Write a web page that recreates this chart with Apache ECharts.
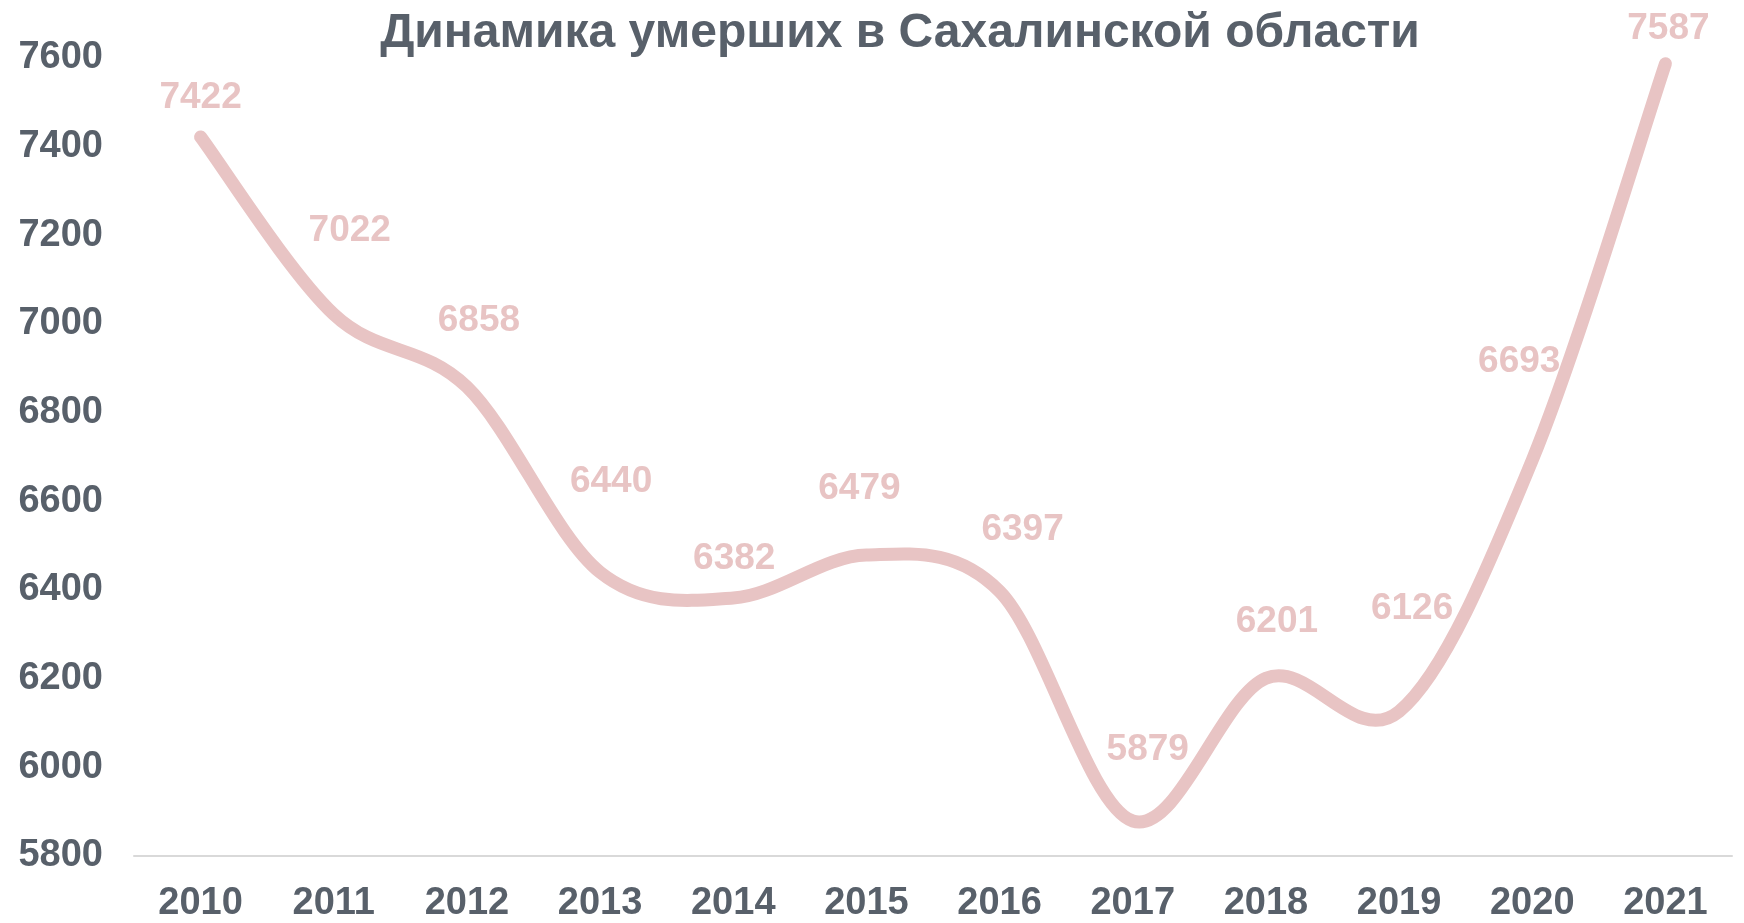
<!DOCTYPE html>
<html>
<head>
<meta charset="utf-8">
<title>Динамика умерших в Сахалинской области</title>
<script src="https://cdn.jsdelivr.net/npm/echarts@6/dist/echarts.min.js"></script>
<style>
  html, body { margin: 0; padding: 0; background: #fff; }
  #chart { width: 1744px; height: 923px; }
</style>
</head>
<body>
<div id="chart"></div>
<script>
// data
var years = ['2010', '2011', '2012', '2013', '2014', '2015', '2016', '2017', '2018', '2019', '2020', '2021']
var deaths = [7422, 7022, 6858, 6440, 6382, 6479, 6397, 5879, 6201, 6126, 6693, 7587]
var yMin = 5800
var yMax = 7600
var yStep = 200

// where each value label sits relative to its point (px)
var labelShift = [
  [0, -39], [16, -83], [12, -66], [11, -90], [1, -39], [-7, -66],
  [23, -62], [15, -71], [11, -56], [13, -103], [-13, -98], [3, -35]
]

var textColor = '#58606a'
var pink = '#e8c4c4'
var font = '"Liberation Sans", Arial, sans-serif'

var chart = echarts.init(document.getElementById('chart'))

// office-style smoothed curve (catmull-rom -> bezier) through the axis coords
function renderCurve(params, api) {
  if (params.dataIndex !== 0) return null
  var pts = deaths.map(function (v, i) {
    return api.coord([i, v])
  })
  var n = pts.length
  var d = 'M' + pts[0][0] + ' ' + pts[0][1]
  for (var i = 0; i < n - 1; i++) {
    var p0 = pts[Math.max(i - 1, 0)]
    var p1 = pts[i]
    var p2 = pts[i + 1]
    var p3 = pts[Math.min(i + 2, n - 1)]
    var c1x = p1[0] + (p2[0] - p0[0]) / 6
    var c1y = p1[1] + (p2[1] - p0[1]) / 6
    var c2x = p2[0] - (p3[0] - p1[0]) / 6
    var c2y = p2[1] - (p3[1] - p1[1]) / 6
    d += ' C' + c1x + ' ' + c1y + ' ' + c2x + ' ' + c2y + ' ' + p2[0] + ' ' + p2[1]
  }
  return {
    type: 'path',
    shape: { pathData: d },
    style: {
      fill: null,
      stroke: pink,
      lineWidth: 13,
      lineCap: 'round',
      lineJoin: 'round'
    }
  }
}

chart.setOption({
  animation: false,
  title: {
    text: 'Динамика умерших в Сахалинской области',
    left: 895,
    top: 5,
    textAlign: 'center',
    textStyle: {
      color: textColor,
      fontFamily: font,
      fontWeight: 'bold',
      fontSize: 48
    }
  },
  grid: {
    left: 134,
    right: 12,
    top: 58,
    bottom: 63
  },
  xAxis: {
    type: 'category',
    data: years,
    boundaryGap: true,
    axisLine: { lineStyle: { color: '#d9d9d9', width: 2 } },
    axisTick: { show: false },
    axisLabel: {
      color: textColor,
      fontFamily: font,
      fontWeight: 'bold',
      fontSize: 38,
      margin: 29
    }
  },
  yAxis: {
    type: 'value',
    min: yMin,
    max: yMax,
    interval: yStep,
    axisLine: { show: false },
    axisTick: { show: false },
    splitLine: { show: false },
    axisLabel: {
      color: textColor,
      fontFamily: font,
      fontWeight: 'bold',
      fontSize: 38,
      margin: 31,
      formatter: function (v) { return String(v) }
    }
  },
  series: [
    {
      type: 'custom',
      renderItem: renderCurve,
      data: deaths.map(function (v, i) { return [i, v] }),
      silent: true,
      z: 2
    },
    {
      // only carries the value labels, the curve above is the visible line
      type: 'line',
      symbol: 'circle',
      symbolSize: 2,
      itemStyle: { color: pink },
      lineStyle: { width: 0, opacity: 0 },
      data: deaths.map(function (v, i) {
        return {
          value: v,
          label: { offset: labelShift[i] }
        }
      }),
      label: {
        show: true,
        position: 'inside',
        color: pink,
        fontFamily: font,
        fontWeight: 'bold',
        fontSize: 37
      },
      z: 3
    }
  ]
})
</script>
</body>
</html>
